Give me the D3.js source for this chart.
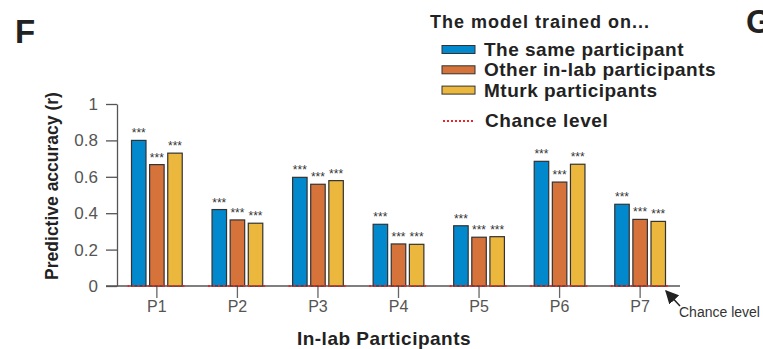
<!DOCTYPE html>
<html>
<head>
<meta charset="utf-8">
<script src="https://cdn.jsdelivr.net/npm/d3@7"></script>
<style>
  body { margin: 0; background: #fff; }
  text { font-family: "Liberation Sans", Arial, Helvetica, sans-serif; }
</style>
</head>
<body>
<div class="chart"></div>
<script>
var svgWidth = 763;
var svgHeight = 349;

// data
var participants = ["P1", "P2", "P3", "P4", "P5", "P6", "P7"];
var seriesNames = ["The same participant", "Other in-lab participants", "Mturk participants"];
var sameParticipant = [0.80, 0.42, 0.597, 0.339, 0.331, 0.685, 0.449];
var otherInLab = [0.667, 0.363, 0.559, 0.231, 0.268, 0.571, 0.366];
var mturk = [0.73, 0.345, 0.579, 0.229, 0.271, 0.669, 0.355];
var chanceLevel = [0, 0, 0, 0, 0, 0, 0];
var yTicks = [0, 0.2, 0.4, 0.6, 0.8, 1];
var colors = ["#0288cc", "#d6733a", "#ebb73d"];

var series = [sameParticipant, otherInLab, mturk];

var svg = d3.select(".chart")
  .append("svg")
  .attr("width", svgWidth)
  .attr("height", svgHeight);

// scales
var xScale = d3.scaleBand()
  .domain(participants)
  .range([117, 680])
  .paddingInner(0.37)
  .paddingOuter(0.18);

var xSub = d3.scaleBand()
  .domain(d3.range(3))
  .range([0, xScale.bandwidth()])
  .paddingInner(0.2);

var yScale = d3.scaleLinear()
  .domain([0, 1])
  .range([286, 104]);

// y axis
var leftAxis = d3.axisLeft(yScale)
  .tickValues(yTicks)
  .tickFormat(d3.format("~g"))
  .tickSize(11)
  .tickSizeOuter(0)
  .tickPadding(8);

var yAxis = svg.append("g")
  .attr("transform", "translate(117,0)")
  .call(leftAxis);
yAxis.select(".domain").attr("stroke", "#555").attr("stroke-width", 1.3);
yAxis.selectAll(".tick line").attr("stroke", "#555").attr("stroke-width", 1.3);
yAxis.selectAll(".tick text")
  .attr("fill", "#555")
  .style("font-size", "17px");

// x axis
var bottomAxis = d3.axisBottom(xScale)
  .tickSize(12)
  .tickSizeOuter(0)
  .tickPadding(3);

var xAxis = svg.append("g")
  .attr("transform", "translate(0,286)")
  .call(bottomAxis);
xAxis.select(".domain").remove();
xAxis.selectAll(".tick line").attr("stroke", "#666").attr("stroke-width", 1.3);
xAxis.selectAll(".tick text")
  .attr("fill", "#555")
  .style("font-size", "16px");

svg.append("line")
  .attr("x1", 106)
  .attr("x2", 680)
  .attr("y1", yScale(0))
  .attr("y2", yScale(0))
  .attr("stroke", "#555")
  .attr("stroke-width", 1.3);

// bars
var groups = svg.append("g")
  .selectAll("g")
  .data(participants)
  .enter()
  .append("g")
  .attr("transform", d => `translate(${xScale(d)},0)`);

groups.selectAll("rect")
  .data((d, i) => series.map((s, k) => ({ k: k, v: s[i] })))
  .enter()
  .append("rect")
  .attr("x", d => xSub(d.k))
  .attr("y", d => yScale(d.v))
  .attr("width", xSub.bandwidth())
  .attr("height", d => yScale(0) - yScale(d.v))
  .attr("fill", d => colors[d.k])
  .attr("stroke", "#333")
  .attr("stroke-width", 1.2);

// significance stars
groups.selectAll("text.star")
  .data((d, i) => series.map((s, k) => ({ k: k, v: s[i] })))
  .enter()
  .append("text")
  .attr("class", "star")
  .attr("x", d => xSub(d.k) + xSub.bandwidth() / 2)
  .attr("y", d => yScale(d.v) - 3)
  .attr("text-anchor", "middle")
  .style("font-size", "12px")
  .attr("fill", "#333")
  .text("***");

// chance level dotted lines
groups.append("line")
  .attr("x1", -4)
  .attr("x2", xScale.bandwidth() + 4)
  .attr("y1", (d, i) => yScale(chanceLevel[i]))
  .attr("y2", (d, i) => yScale(chanceLevel[i]))
  .attr("stroke", "#e8262b")
  .attr("stroke-width", 2)
  .attr("stroke-dasharray", "2,3");

// chance level annotation
svg.append("defs").append("marker")
  .attr("id", "arrow")
  .attr("viewBox", "0 0 10 10")
  .attr("refX", 9)
  .attr("refY", 5)
  .attr("markerWidth", 9)
  .attr("markerHeight", 9)
  .attr("orient", "auto")
  .append("path")
  .attr("d", "M0,0 L10,5 L0,10 z")
  .attr("fill", "#222");

svg.append("line")
  .attr("x1", 680)
  .attr("y1", 306)
  .attr("x2", 666)
  .attr("y2", 291)
  .attr("stroke", "#222")
  .attr("stroke-width", 1.5)
  .attr("marker-end", "url(#arrow)");

svg.append("text")
  .attr("x", 679)
  .attr("y", 317)
  .style("font-size", "14px")
  .attr("fill", "#333")
  .text("Chance level");

// axis titles
svg.append("text")
  .attr("transform", "translate(58,186) rotate(-90)")
  .attr("text-anchor", "middle")
  .style("font-size", "17.5px")
  .style("font-weight", "bold")
  .attr("fill", "#222")
  .text("Predictive accuracy (r)");

svg.append("text")
  .attr("x", 384)
  .attr("y", 345)
  .attr("text-anchor", "middle")
  .style("font-size", "19px")
  .style("letter-spacing", "0.5px")
  .style("font-weight", "bold")
  .attr("fill", "#222")
  .text("In-lab Participants");

// panel letters
svg.append("text")
  .attr("x", 15)
  .attr("y", 43)
  .style("font-size", "33px")
  .style("font-weight", "bold")
  .attr("fill", "#222")
  .text("F");

svg.append("text")
  .attr("x", 746)
  .attr("y", 33)
  .style("font-size", "33px")
  .style("font-weight", "bold")
  .attr("fill", "#222")
  .text("G");

// legend
var legend = svg.append("g");

legend.append("text")
  .attr("x", 430)
  .attr("y", 28)
  .style("font-size", "18px")
  .style("letter-spacing", "1px")
  .style("font-weight", "bold")
  .attr("fill", "#222")
  .text("The model trained on...");

var items = legend.selectAll("g.item")
  .data(seriesNames)
  .enter()
  .append("g")
  .attr("class", "item")
  .attr("transform", (d, i) => `translate(0,${49.5 + i * 20.3})`);

items.append("rect")
  .attr("x", 442)
  .attr("y", -4)
  .attr("width", 33)
  .attr("height", 8)
  .attr("fill", (d, i) => colors[i])
  .attr("stroke", "#333")
  .attr("stroke-width", 1);

items.append("text")
  .attr("x", 484)
  .attr("y", 6.5)
  .style("font-size", "19px")
  .style("letter-spacing", "0.5px")
  .style("font-weight", "bold")
  .attr("fill", "#222")
  .text(d => d);

legend.append("line")
  .attr("x1", 443)
  .attr("x2", 475)
  .attr("y1", 121)
  .attr("y2", 121)
  .attr("stroke", "#e8262b")
  .attr("stroke-width", 2)
  .attr("stroke-dasharray", "2,2");

legend.append("text")
  .attr("x", 485)
  .attr("y", 127)
  .style("font-size", "19px")
  .style("letter-spacing", "0.6px")
  .style("font-weight", "bold")
  .attr("fill", "#222")
  .text("Chance level");
</script>
</body>
</html>
